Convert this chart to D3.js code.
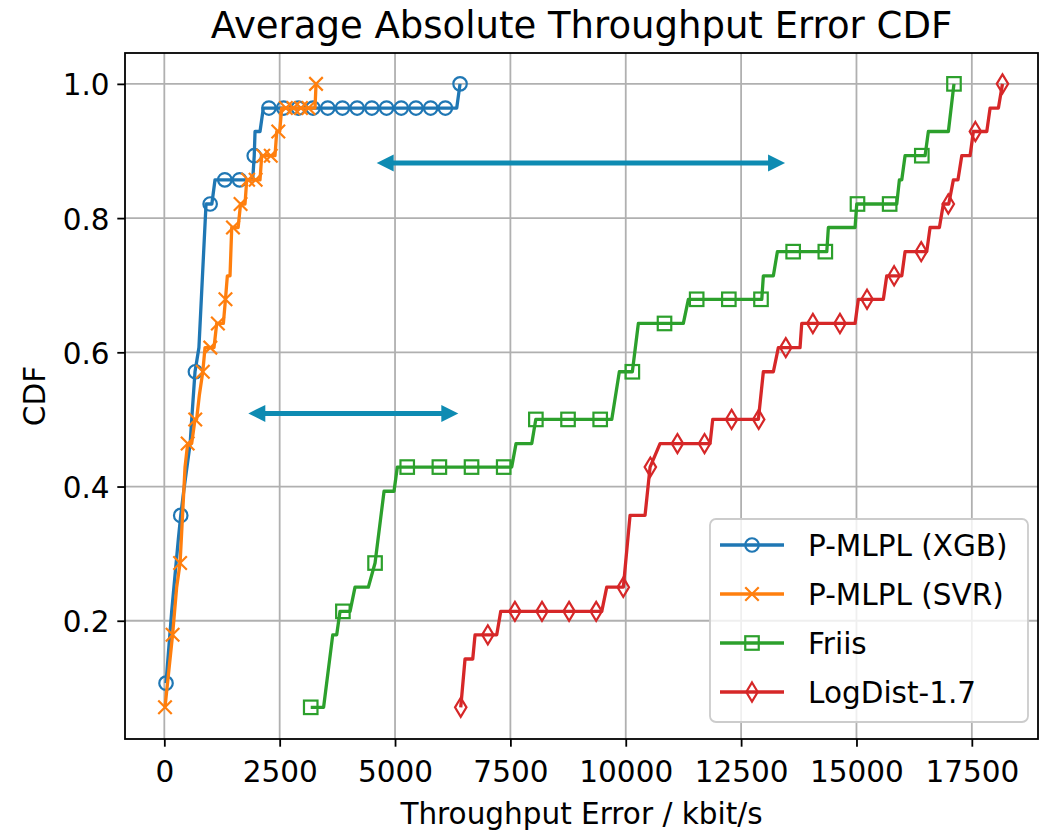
<!DOCTYPE html>
<html>
<head>
<meta charset="utf-8">
<script src="https://cdn.jsdelivr.net/npm/d3@7"></script>
<style>
  body { margin: 0; background: #fff; }
  text { font-family: "DejaVu Sans", sans-serif; fill: #000; }
</style>
</head>
<body>
<script>
// ---------------- data ----------------
var seriesNames = ["P-MLPL (XGB)", "P-MLPL (SVR)", "Friis", "LogDist-1.7"];

// P-MLPL (XGB): line vertices and marker points
var xgbX = [37, 160, 303, 356, 420, 560, 594, 665, 750, 904, 1030, 1099, 1915, 1949, 1966, 2074, 2146, 6337, 6409];
var xgbY = [0.107, 0.214, 0.321, 0.357, 0.393, 0.464, 0.5, 0.571, 0.607, 0.821, 0.821, 0.857, 0.857, 0.893, 0.929, 0.929, 0.964, 0.964, 1.0];
var xgbMarkX = [37, 356, 674, 993, 1311, 1630, 1949, 2267, 2586, 2905, 3223, 3542, 3861, 4179, 4498, 4816, 5135, 5454, 5772, 6091, 6409];
var xgbMarkY = [0.107, 0.357, 0.571, 0.821, 0.857, 0.857, 0.893, 0.964, 0.964, 0.964, 0.964, 0.964, 0.964, 0.964, 0.964, 0.964, 0.964, 0.964, 0.964, 0.964, 1.0];

// P-MLPL (SVR)
var svrX = [15, 179, 268, 342, 449, 506, 593, 665, 700, 759, 834, 882, 1077, 1135, 1280, 1325, 1366, 1424, 1461, 1600, 1652, 1749, 1786, 2074, 2111, 2399, 2436, 2500, 2544, 3266, 3288];
var svrY = [0.071, 0.179, 0.25, 0.286, 0.429, 0.464, 0.464, 0.5, 0.5, 0.536, 0.571, 0.607, 0.607, 0.643, 0.643, 0.679, 0.714, 0.714, 0.786, 0.786, 0.821, 0.821, 0.857, 0.857, 0.893, 0.893, 0.929, 0.929, 0.964, 0.964, 1.0];
var svrMarkX = [15, 179, 342, 506, 670, 834, 997, 1161, 1325, 1488, 1652, 1816, 1979, 2143, 2307, 2470, 2634, 2798, 2961, 3125, 3288];
var svrMarkY = [0.071, 0.179, 0.286, 0.464, 0.5, 0.571, 0.607, 0.643, 0.679, 0.786, 0.821, 0.857, 0.857, 0.893, 0.893, 0.929, 0.964, 0.964, 0.964, 0.964, 1.0];

// Friis
var friisX = [3173, 3452, 3650, 3736, 3808, 4025, 4133, 4421, 4567, 4762, 4978, 5050, 7529, 7622, 7963, 8050, 9697, 9861, 10143, 10273, 11248, 11357, 12948, 12982, 13199, 13286, 14357, 14391, 14970, 15006, 15873, 15930, 15982, 16053, 16487, 16558, 16992, 17113];
var friisY = [0.071, 0.071, 0.179, 0.179, 0.214, 0.214, 0.25, 0.25, 0.286, 0.393, 0.393, 0.429, 0.429, 0.464, 0.464, 0.5, 0.5, 0.571, 0.571, 0.643, 0.643, 0.679, 0.679, 0.714, 0.714, 0.75, 0.75, 0.786, 0.786, 0.821, 0.821, 0.857, 0.857, 0.893, 0.893, 0.929, 0.929, 1.0];
var friisMarkX = [3173, 3870, 4567, 5264, 5961, 6658, 7355, 8052, 8749, 9446, 10143, 10840, 11537, 12234, 12931, 13628, 14325, 15022, 15719, 16416, 17113];
var friisMarkY = [0.071, 0.214, 0.286, 0.429, 0.429, 0.429, 0.429, 0.5, 0.5, 0.5, 0.571, 0.643, 0.679, 0.679, 0.679, 0.75, 0.75, 0.821, 0.821, 0.893, 1.0];

// LogDist-1.7
var logX = [6424, 6517, 6684, 6734, 7204, 7291, 9480, 9588, 9948, 10093, 10418, 10527, 10743, 11827, 11885, 12874, 12982, 13199, 13307, 13777, 13814, 14970, 15041, 15583, 15656, 15982, 16053, 16523, 16595, 16797, 16883, 17000, 17100, 17200, 17282, 17462, 17534, 17824, 17896, 18076, 18164];
var logY = [0.071, 0.143, 0.143, 0.179, 0.179, 0.214, 0.214, 0.25, 0.25, 0.357, 0.357, 0.429, 0.464, 0.464, 0.5, 0.5, 0.571, 0.571, 0.607, 0.607, 0.643, 0.643, 0.679, 0.679, 0.714, 0.714, 0.75, 0.75, 0.786, 0.786, 0.821, 0.821, 0.857, 0.857, 0.893, 0.893, 0.929, 0.929, 0.964, 0.964, 1.0];
var logMarkX = [6424, 7011, 7598, 8185, 8772, 9359, 9946, 10533, 11120, 11707, 12294, 12881, 13468, 14055, 14642, 15229, 15816, 16403, 16990, 17577, 18164];
var logMarkY = [0.071, 0.179, 0.214, 0.214, 0.214, 0.214, 0.25, 0.429, 0.464, 0.464, 0.5, 0.5, 0.607, 0.643, 0.643, 0.679, 0.714, 0.75, 0.821, 0.929, 1.0];

// ticks
var xTicks = [0, 2500, 5000, 7500, 10000, 12500, 15000, 17500];
var yTicks = [0.2, 0.4, 0.6, 0.8, 1.0];

// double-headed annotation arrows [x1, x2, y]
var arrowA = [4603, 13452, 0.882];
var arrowB = [1821, 6372, 0.509];

// ---------------- layout ----------------
var w = 1040, h = 832;
var plotL = 125, plotR = 1038, plotT = 53, plotB = 739;
var colors = ["#1f77b4", "#ff7f0e", "#2ca02c", "#d62728"];
var markerTypes = ["o", "x", "s", "d"];
var lw = 3.3, mew = 2.2, ms = 13.5;
var arrowColor = "#0e8bb2";

window.onload = function () {
  var svg = d3.select("body").append("svg")
    .attr("width", w).attr("height", h);

  var x = d3.scaleLinear().domain([-852, 18934]).range([plotL, plotR]);
  var y = d3.scaleLinear().domain([0.0238, 1.046]).range([plotB, plotT]);

  // grid
  svg.append("g").selectAll("line").data(xTicks).enter().append("line")
    .attr("x1", function (d) { return x(d); }).attr("x2", function (d) { return x(d); })
    .attr("y1", plotT).attr("y2", plotB)
    .style("stroke", "#b0b0b0").style("stroke-width", 1.8);
  svg.append("g").selectAll("line").data(yTicks).enter().append("line")
    .attr("y1", function (d) { return y(d); }).attr("y2", function (d) { return y(d); })
    .attr("x1", plotL).attr("x2", plotR)
    .style("stroke", "#b0b0b0").style("stroke-width", 1.8);

  // marker drawing helper
  function drawMarker(g, type, color) {
    var r = ms / 2;
    if (type === "o") {
      g.append("circle").attr("r", r);
    } else if (type === "x") {
      g.append("path").attr("d", "M" + (-r) + "," + (-r) + "L" + r + "," + r + "M" + (-r) + "," + r + "L" + r + "," + (-r));
    } else if (type === "s") {
      g.append("rect").attr("x", -r).attr("y", -r).attr("width", ms).attr("height", ms);
    } else {
      var dh = ms * 0.7071, dw = dh * 0.6;
      g.append("path").attr("d", "M0," + (-dh) + "L" + dw + ",0L0," + dh + "L" + (-dw) + ",0Z");
    }
    g.selectAll("*").style("fill", "none").style("stroke", color).style("stroke-width", mew);
  }

  var series = [
    { xs: xgbX, ys: xgbY, mx: xgbMarkX, my: xgbMarkY },
    { xs: svrX, ys: svrY, mx: svrMarkX, my: svrMarkY },
    { xs: friisX, ys: friisY, mx: friisMarkX, my: friisMarkY },
    { xs: logX, ys: logY, mx: logMarkX, my: logMarkY }
  ];

  var line = d3.line()
    .x(function (d) { return x(d[0]); })
    .y(function (d) { return y(d[1]); });

  series.forEach(function (s, i) {
    var g = svg.append("g").attr("class", "series");
    g.append("path")
      .datum(d3.zip(s.xs, s.ys))
      .attr("d", line)
      .style("fill", "none")
      .style("stroke", colors[i])
      .style("stroke-width", lw)
      .style("stroke-linejoin", "round");
    g.selectAll(".mark").data(d3.zip(s.mx, s.my)).enter().append("g")
      .attr("class", "mark")
      .attr("transform", function (d) { return "translate(" + x(d[0]) + "," + y(d[1]) + ")"; })
      .each(function () { drawMarker(d3.select(this), markerTypes[i], colors[i]); });
  });

  // arrows
  function drawArrow(a) {
    var x1 = x(a[0]), x2 = x(a[1]), yy = y(a[2]);
    var hl = 17, hw = 8.5;
    var g = svg.append("g").attr("class", "arrow");
    g.append("line").attr("x1", x1 + hl - 1).attr("x2", x2 - hl + 1)
      .attr("y1", yy).attr("y2", yy)
      .style("stroke", arrowColor).style("stroke-width", 5);
    g.append("path").attr("d", "M" + x1 + "," + yy + "L" + (x1 + hl) + "," + (yy - hw) + "L" + (x1 + hl) + "," + (yy + hw) + "Z")
      .style("fill", arrowColor);
    g.append("path").attr("d", "M" + x2 + "," + yy + "L" + (x2 - hl) + "," + (yy - hw) + "L" + (x2 - hl) + "," + (yy + hw) + "Z")
      .style("fill", arrowColor);
  }
  drawArrow(arrowA);
  drawArrow(arrowB);

  // axes
  var xAxis = d3.axisBottom(x).tickValues(xTicks).tickSize(7.7).tickPadding(14)
    .tickFormat(d3.format("d"));
  var gx = svg.append("g").attr("transform", "translate(0," + plotB + ")").call(xAxis);
  var yAxis = d3.axisLeft(y).tickValues(yTicks).tickSize(7.7).tickPadding(7.7)
    .tickFormat(d3.format(".1f"));
  var gy = svg.append("g").attr("transform", "translate(" + plotL + ",0)").call(yAxis);
  [gx, gy].forEach(function (g) {
    g.select(".domain").remove();
    g.selectAll(".tick line").style("stroke", "#000").style("stroke-width", 1.8);
    g.selectAll(".tick text").style("font-size", "29.5px").style("font-family", "DejaVu Sans").style("fill", "#000");
  });
  gy.selectAll(".tick text").attr("dy", "0.37em");

  // spines
  svg.append("rect")
    .attr("x", plotL).attr("y", plotT)
    .attr("width", plotR - plotL).attr("height", plotB - plotT)
    .style("fill", "none").style("stroke", "#000").style("stroke-width", 1.8);

  // title and labels
  svg.append("text")
    .attr("x", (plotL + plotR) / 2).attr("y", 38)
    .attr("text-anchor", "middle")
    .style("font-size", "37px")
    .text("Average Absolute Throughput Error CDF");
  svg.append("text")
    .attr("x", (plotL + plotR) / 2).attr("y", 824)
    .attr("text-anchor", "middle")
    .style("font-size", "29.5px")
    .text("Throughput Error / kbit/s");
  svg.append("text")
    .attr("transform", "translate(45," + ((plotT + plotB) / 2) + ") rotate(-90)")
    .attr("text-anchor", "middle")
    .style("font-size", "29.5px")
    .text("CDF");

  // legend
  var legend = svg.append("g").attr("class", "legend");
  legend.append("rect")
    .attr("x", 710).attr("y", 519).attr("width", 318).attr("height", 203)
    .attr("rx", 6).attr("ry", 6)
    .style("fill", "#fff").style("fill-opacity", 0.8)
    .style("stroke", "#cccccc").style("stroke-width", 1.8);
  var rows = legend.selectAll(".row").data(seriesNames).enter().append("g")
    .attr("class", "row")
    .attr("transform", function (d, i) { return "translate(0," + (545 + i * 49) + ")"; });
  rows.append("line")
    .attr("x1", 720).attr("x2", 784).attr("y1", 0).attr("y2", 0)
    .style("stroke", function (d, i) { return colors[i]; })
    .style("stroke-width", lw);
  rows.append("g")
    .attr("transform", "translate(752,0)")
    .each(function (d, i) { drawMarker(d3.select(this), markerTypes[i], colors[i]); });
  rows.append("text")
    .attr("x", 808).attr("y", 11)
    .style("font-size", "29.5px")
    .text(function (d) { return d; });
};
</script>
</body>
</html>
